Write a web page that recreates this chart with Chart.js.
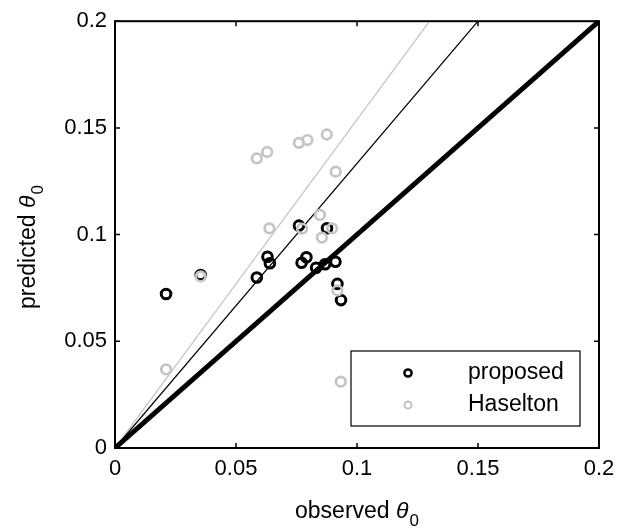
<!DOCTYPE html>
<html>
<head>
<meta charset="utf-8">
<script src="https://cdn.jsdelivr.net/npm/chart.js@4"></script>
<style>
html,body{margin:0;padding:0;background:#fff;}
#wrap{width:625px;height:531px;}
</style>
</head>
<body>
<div id="wrap"><canvas id="c" width="625" height="531"></canvas></div>
<script>
// ---- data ----
const seriesNames = ['proposed', 'Haselton'];
const proposedObserved  = [0.0211, 0.0354, 0.0586, 0.0630, 0.0640, 0.0760, 0.0771, 0.0791, 0.0831, 0.0868, 0.0876, 0.0911, 0.0919, 0.0934];
const proposedPredicted = [0.0722, 0.0811, 0.0799, 0.0896, 0.0866, 0.1042, 0.0868, 0.0894, 0.0845, 0.0861, 0.1030, 0.0873, 0.0769, 0.0693];
const haseltonObserved  = [0.0211, 0.0354, 0.0586, 0.0629, 0.0638, 0.0760, 0.0773, 0.0795, 0.0847, 0.0855, 0.0875, 0.0897, 0.0912, 0.0919, 0.0933];
const haseltonPredicted = [0.0368, 0.0804, 0.1357, 0.1387, 0.1029, 0.1430, 0.1028, 0.1443, 0.1092, 0.0986, 0.1469, 0.1029, 0.1295, 0.0738, 0.0311];
// reference lines through origin: end points
const lineEqualX = [0, 0.2],  lineEqualY = [0, 0.2];
const lineMidX   = [0, 0.15], lineMidY   = [0, 0.2];
const lineGrayX  = [0, 0.13], lineGrayY  = [0, 0.2];
const tickValues = [0, 0.05, 0.1, 0.15, 0.2];
const tickLabels = ['0', '0.05', '0.1', '0.15', '0.2'];
const xTitle = ['observed ', 'θ', '0'];
const yTitle = ['predicted ', 'θ', '0'];

const pts = (xs, ys) => xs.map((x, i) => ({x: x, y: ys[i]}));
const FONT = '"Liberation Sans", Arial, sans-serif';
const BLACK = '#000000', GRAY = '#c4c4c4';

const framePlugin = {
  id: 'frame',
  afterDraw(chart) {
    const {ctx, chartArea: a, scales} = chart;
    ctx.save();
    // box
    ctx.strokeStyle = '#000'; ctx.lineWidth = 2;
    ctx.strokeRect(a.left, a.top, a.right - a.left, a.bottom - a.top);
    // inward ticks on all sides
    ctx.lineWidth = 1.5;
    const tl = 5;
    tickValues.forEach(v => {
      const px = scales.x.getPixelForValue(v);
      const py = scales.y.getPixelForValue(v);
      ctx.beginPath();
      ctx.moveTo(px, a.bottom); ctx.lineTo(px, a.bottom - tl);
      ctx.moveTo(px, a.top); ctx.lineTo(px, a.top + tl);
      ctx.moveTo(a.left, py); ctx.lineTo(a.left + tl, py);
      ctx.moveTo(a.right, py); ctx.lineTo(a.right - tl, py);
      ctx.stroke();
    });
    // titles
    const drawTitle = (parts, cx, cy, rot) => {
      ctx.save();
      ctx.translate(cx, cy);
      if (rot) ctx.rotate(-Math.PI / 2);
      ctx.fillStyle = '#000';
      ctx.textBaseline = 'alphabetic';
      const f1 = '23px ' + FONT, f2 = 'italic 23px ' + FONT, f3 = '17px ' + FONT;
      ctx.font = f1; const w1 = ctx.measureText(parts[0]).width;
      ctx.font = f2; const w2 = ctx.measureText(parts[1]).width;
      ctx.font = f3; const w3 = ctx.measureText(parts[2]).width;
      let x = -(w1 + w2 + w3 + 1) / 2;
      ctx.font = f1; ctx.fillText(parts[0], x, 0); x += w1;
      ctx.font = f2; ctx.fillText(parts[1], x, 0); x += w2 + 1;
      ctx.font = f3; ctx.fillText(parts[2], x, 8);
      ctx.restore();
    };
    drawTitle(xTitle, (a.left + a.right) / 2, 518, false);
    drawTitle(yTitle, 35, 247, true);
    // legend
    const bx = 351, by = 351, bw = 229, bh = 75;
    ctx.fillStyle = '#fff';
    ctx.fillRect(bx, by, bw, bh);
    ctx.strokeStyle = '#000'; ctx.lineWidth = 1.2;
    ctx.strokeRect(bx, by, bw, bh);
    const cols = [BLACK, GRAY];
    const lw = [2.5, 2];
    seriesNames.forEach((name, i) => {
      const y = 373 + i * 32;
      ctx.beginPath();
      ctx.strokeStyle = cols[i]; ctx.lineWidth = lw[i];
      ctx.arc(408, y, 3.6, 0, Math.PI * 2);
      ctx.stroke();
      ctx.fillStyle = '#000';
      ctx.font = '23px ' + FONT;
      ctx.textBaseline = 'middle';
      ctx.textAlign = 'left';
      ctx.fillText(name, 468, y);
    });
    ctx.restore();
  }
};

const axisCommon = (pos) => ({
  type: 'linear',
  position: pos,
  min: 0, max: 0.2,
  afterBuildTicks: s => { s.ticks = tickValues.map(v => ({value: v})); },
  grid: {display: false, drawTicks: false},
  border: {display: false},
  ticks: {
    color: '#000',
    font: {family: FONT, size: 22},
    padding: 8,
    maxRotation: 0,
    callback: (v, i) => tickLabels[i]
  }
});

const xAxis = axisCommon('bottom');
xAxis.afterFit = s => { s.height = 83; };
xAxis.ticks.padding = 8;
const yAxis = axisCommon('left');
yAxis.afterFit = s => { s.width = 115; };

new Chart(document.getElementById('c'), {
  type: 'scatter',
  data: {
    datasets: [
      {label: seriesNames[1], data: pts(haseltonObserved, haseltonPredicted), showLine: false,
       pointRadius: 4.8, pointBorderWidth: 2.7, pointBackgroundColor: 'rgba(0,0,0,0)', borderColor: GRAY, pointBorderColor: GRAY},
      {label: seriesNames[0], data: pts(proposedObserved, proposedPredicted), showLine: false,
       pointRadius: 4.8, pointBorderWidth: 3, pointBackgroundColor: 'rgba(0,0,0,0)', borderColor: BLACK, pointBorderColor: BLACK},
      {label: 'y=x', data: pts(lineEqualX, lineEqualY), showLine: true, pointRadius: 0, borderColor: BLACK, borderWidth: 5},
      {label: 'mid', data: pts(lineMidX, lineMidY), showLine: true, pointRadius: 0, borderColor: BLACK, borderWidth: 1.3},
      {label: 'gray', data: pts(lineGrayX, lineGrayY), showLine: true, pointRadius: 0, borderColor: GRAY, borderWidth: 1.3}
    ]
  },
  options: {
    responsive: false,
    animation: false,
    devicePixelRatio: 1,
    layout: {padding: {left: 0, top: 15, right: 26, bottom: 0}},
    plugins: {legend: {display: false}, tooltip: {enabled: false}},
    scales: {x: xAxis, y: yAxis}
  },
  plugins: [framePlugin]
});
</script>
</body>
</html>
